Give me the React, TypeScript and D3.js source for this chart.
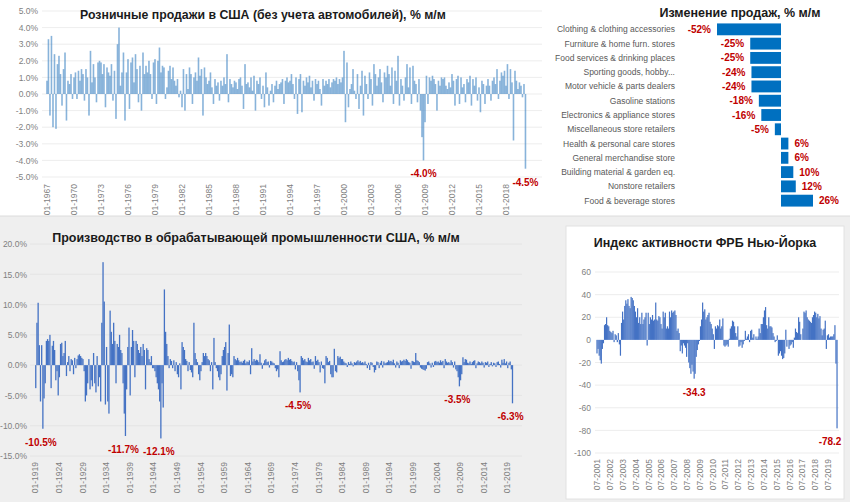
import React, { useEffect, useRef } from 'react';
import * as d3 from 'd3';

// Розничные продажи без автомобилей, % м/м (значения через месяц: янв, мар, май, июл, сен, ноя)
const retailSales: number[] = [
  0.8, 3.3, -1.3, 3.5, -2.0, 2.4, // 1967
  -2.1, 1.8, 2.3, 1.2, -0.7, 1.5,
  2.5, -1.6, 0.8, 0.6, 1.2, -0.3,
  1.0, 1.3, -0.3, 1.4, 0.8, 1.5, // 1970
  1.2, -0.4, 1.5, 1.0, -1.3, 2.6,
  0.7, 1.8, 1.0, -0.5, 1.9, 2.0,
  1.9, 1.2, 1.8, -0.8, 1.6, 1.3,
  1.1, 1.8, -0.4, 1.4, -1.5, 3.0,
  4.0, 0.5, 1.3, 2.5, -1.6, 1.3, // 1975
  2.1, -0.9, 1.9, 2.2, 0.7, 2.4,
  1.5, -0.5, 1.7, -1.0, 2.5, 1.2,
  1.7, 1.3, 2.0, 1.2, -0.3, 1.9,
  2.1, -0.6, 2.0, 2.8, 1.3, 1.7,
  1.6, -0.3, 0.4, 1.4, 1.7, 0.9, // 1980
  1.6, 0.8, 0.5, 0.9, -0.2, 0.2,
  -0.8, 1.5, -1.0, 1.2, 0.3, 1.6,
  1.2, -0.6, 1.0, 1.3, 0.8, 2.2,
  1.1, 1.5, -1.3, 1.6, 1.0, 0.6,
  0.8, 1.3, 0.4, -0.6, 0.9, 0.5, // 1985
  0.7, -0.4, 0.8, 0.5, 1.0, 0.6,
  2.4, -0.5, 0.9, 0.6, 0.4, 0.8,
  0.7, 0.3, 0.9, 1.0, 0.5, -0.9,
  1.8, 0.6, 0.7, 0.4, 1.0, 0.2,
  1.1, -1.0, 0.8, 0.6, 1.0, -0.3, // 1990
  0.5, -0.8, 1.3, 0.4, -0.7, 0.2,
  0.6, -0.5, 0.5, 0.8, 0.3, 0.6,
  0.7, 0.9, -0.6, 0.8, 1.0, 0.7,
  0.8, 1.2, 0.6, -0.3, 1.0, -1.2,
  0.9, 1.2, -1.1, 0.8, 0.5, 1.0, // 1995
  0.7, 1.1, 0.4, 0.8, -0.4, 0.9,
  0.6, 0.8, 0.3, -0.7, 0.9, 0.5,
  0.8, 0.6, 0.9, 0.4, 0.7, 0.9,
  0.8, 1.0, 0.6, 0.9, 0.7, 1.0,
  2.6, -1.7, 1.9, -0.8, 0.3, 0.6, // 2000
  1.5, 0.2, -0.3, 1.2, -0.9, 0.5,
  1.4, -1.3, 1.1, 0.6, -0.3, 1.3,
  0.9, -0.7, 1.8, 1.2, 0.5, 1.0,
  1.5, 0.7, -0.5, 1.3, 1.0, 1.7,
  1.2, 0.5, 1.6, -0.6, 1.4, 0.8, // 2005
  2.3, -0.7, 0.9, 0.5, -0.4, 1.0,
  1.8, 0.4, 1.6, -0.6, 1.7, 0.8,
  0.6, -0.5, 0.9, -1.0, -2.6, -4.0,
  -1.7, 1.1, -0.6, 1.0, 0.8, 1.1,
  0.9, 0.6, -1.0, 0.8, 0.5, 1.0, // 2010
  0.9, 1.0, 0.5, 0.3, 0.7, 0.4,
  1.2, 0.8, -0.7, 0.9, 1.1, -0.6,
  1.0, 0.4, 0.6, -0.5, 0.9, 0.7,
  1.1, -0.7, 0.9, 0.5, 1.0, -0.4,
  0.4, -1.1, 0.8, 0.6, -0.6, 0.5, // 2015
  0.9, 0.5, -0.4, 0.8, 1.0, 0.6,
  1.5, -0.3, 0.8, 1.3, 1.1, 1.4,
  0.5, 1.8, -0.3, 1.5, 0.7, -2.8,
  1.4, 0.8, 0.3, 0.7, 0.5, -0.2,
  0.6, -4.5, // 2020
];
const retailStart = '01-1967';
const retailStepMonths = 2;
const retailTicks = ['01-1967', '01-1970', '01-1973', '01-1976', '01-1979', '01-1982', '01-1985', '01-1988',
  '01-1991', '01-1994', '01-1997', '01-2000', '01-2003', '01-2006', '01-2009', '01-2012', '01-2015', '01-2018'];
const retailYTicks = [5, 4, 3, 2, 1, 0, -1, -2, -3, -4, -5];
const retailNotes = [{ date: '11-2008', text: '-4.0%' }, { date: '03-2020', text: '-4.5%' }];

// Изменение продаж по категориям, % м/м
const categories = ['Clothing & clothing accessories', 'Furniture & home furn. stores', 'Food services & drinking places',
  'Sporting goods, hobby...', 'Motor vehicle & parts dealers', 'Gasoline stations', 'Electronics & appliance stores',
  'Miscellaneous store retailers', 'Health & personal care stores', 'General merchandise store',
  'Building material & garden eq.', 'Nonstore retailers', 'Food & beverage stores'];
const categoryChange = [-52, -25, -25, -24, -24, -18, -16, -5, 6, 6, 10, 12, 26];

// Производство в обрабатывающей промышленности, % м/м (по кварталам: мар, июн, сен, дек)
const manufacturing: number[] = [
  -3.8, 7.0, 10.3, 3.3, // 1919
  -6.0, 3.3, -10.5, -5.5,
  -3.0, 4.0, 4.3, 4.0,
  5.0, -3.8, 3.2, 4.0,
  2.5, -2.5, -1.0, -5.0,
  -2.0, 3.5, 3.7, 1.5, // 1924
  2.0, 4.0, -1.8, 0.5,
  1.5, -1.0, 1.0, 0.8,
  -1.5, 1.2, -0.5, 1.0,
  1.6, 1.8, 1.5, 1.2,
  1.0, -1.0, -6.0, -5.0, // 1929
  -3.0, 1.0, -4.0, -2.5,
  -3.5, 2.0, -3.0, -4.5,
  1.5, -3.5, -2.0, -6.0,
  7.0, 17.0, 10.5, -6.5,
  3.0, -6.0, -8.0, 9.0, // 1934
  5.5, 3.5, 7.0, 4.0,
  -3.0, 3.5, 3.0, 5.0,
  2.5, 2.0, -3.0, -8.0,
  -11.7, -4.0, 3.0, 6.2,
  -5.0, 3.0, 5.8, 4.0, // 1939
  -2.0, 4.0, 3.5, 2.5,
  2.0, 3.0, 1.5, 3.5,
  2.5, -4.0, 2.8, 2.5,
  1.0, 0.5, 1.5, -0.5,
  -0.5, -1.0, -2.0, -3.0, // 1944
  -4.0, -6.0, -12.1, -3.0,
  -7.0, 12.5, 5.5, 3.5,
  1.5, -0.5, 1.0, 0.7,
  -0.5, 0.8, -1.0, 0.5,
  -1.5, -2.0, 0.3, -4.0, // 1949
  3.8, 3.0, 2.5, 1.0,
  0.7, -1.0, 0.5, -0.8,
  -1.2, -2.0, 7.0, 2.0,
  1.0, 0.5, -1.5, -2.5,
  -1.0, 0.5, 2.0, 1.5, // 1954
  2.0, 1.5, 1.0, 0.8,
  -1.0, 0.5, -4.0, 4.5,
  0.5, -0.5, -1.0, -2.0,
  -2.5, -1.5, 1.5, 2.5,
  3.0, 3.8, -4.2, 2.0, // 1959
  6.7, -1.8, -1.5, -2.0,
  1.5, 1.0, 0.8, 1.2,
  0.8, 0.5, 0.6, 0.4,
  0.7, 0.9, 0.3, 0.6,
  0.5, 0.8, -1.5, 2.8, // 1964
  0.6, 1.0, 0.7, 0.9,
  0.8, 0.5, 1.8, 0.4,
  -0.6, 0.3, 0.8, 1.0,
  0.5, 0.6, -0.4, 0.7,
  0.6, 0.4, 0.3, -0.5, // 1969
  -1.0, -0.7, -2.0, 2.3,
  0.8, 0.5, 0.6, 0.9,
  1.0, 0.8, 1.2, 0.9,
  1.0, 0.7, 0.5, 0.6,
  -0.7, 0.5, -1.0, -2.5, // 1974
  -4.5, 1.5, 1.2, 0.8,
  1.0, 0.6, 0.5, 1.2,
  0.8, 1.0, 0.5, 0.6,
  -0.6, 1.5, 0.7, 0.9,
  0.5, -1.2, 0.6, -0.5, // 1979
  -0.6, -3.0, 1.5, 1.2,
  0.5, 0.7, -1.5, -2.0,
  -2.0, 2.7, -1.0, -1.2,
  1.5, 1.2, 1.4, 1.0,
  1.0, 0.6, 0.4, 0.3, // 1984
  -0.3, 0.5, 0.2, 0.6,
  0.3, -0.2, 0.5, 0.4,
  0.6, 0.8, 0.5, 0.7,
  0.4, 0.5, 0.3, 0.6,
  0.2, -0.5, 0.4, -0.8, // 1989
  0.5, 0.4, -0.3, -1.2,
  -0.8, 0.6, 0.5, -0.5,
  0.4, 0.7, -0.4, 0.6,
  0.3, 0.4, 0.5, 0.8,
  0.6, 0.7, 0.5, 0.9, // 1994
  0.3, -0.4, 0.6, 0.4,
  -0.5, 0.8, 0.6, 0.7,
  0.9, 0.7, 1.0, 0.8,
  0.5, 0.4, -0.6, 0.7,
  0.6, 0.5, 2.0, 0.8, // 1999
  0.7, 0.5, -0.4, -0.6,
  -0.7, -0.8, -0.9, -0.6,
  0.5, 0.6, 0.3, -0.4,
  0.4, -0.3, 0.6, 0.7,
  0.5, 0.6, 0.4, 0.8, // 2004
  0.5, 0.7, -0.5, 1.0,
  0.6, 0.4, 0.5, 0.3,
  0.8, 0.5, -0.4, 0.6,
  -0.7, -1.0, -2.0, -3.5,
  -2.5, -1.5, 1.3, 0.5, // 2009
  1.0, 0.9, 0.4, 0.3,
  0.6, 0.2, 0.5, 0.7,
  0.8, -0.5, 0.3, 0.6,
  0.5, 0.3, 0.6, 0.4,
  -0.4, 0.5, 0.4, 0.6, // 2014
  -0.3, 0.2, 0.5, -0.2,
  0.4, 0.3, -0.3, 0.5,
  0.6, 0.2, -0.4, 0.9,
  0.4, 1.0, 0.3, 0.6,
  -0.5, 0.4, 0.6, -0.7, // 2019
  -6.3,
];
const mfgStart = '03-1919';
const mfgStepMonths = 3;
const mfgTicks = ['01-1919', '01-1924', '01-1929', '01-1934', '01-1939', '01-1944', '01-1949', '01-1954', '01-1959',
  '01-1964', '01-1969', '01-1974', '01-1979', '01-1984', '01-1989', '01-1994', '01-1999', '01-2004', '01-2009',
  '01-2014', '01-2019'];
const mfgYTicks = [20, 15, 10, 5, 0, -5, -10, -15];
const mfgNotes = [
  { date: '09-1920', text: '-10.5%' }, { date: '03-1938', text: '-11.7%' }, { date: '09-1945', text: '-12.1%' },
  { date: '03-1975', text: '-4.5%' }, { date: '12-2008', text: '-3.5%' }, { date: '03-2020', text: '-6.3%' },
];

// Индекс активности ФРБ Нью-Йорка, помесячно с 07-2001
const empireIndex: number[] = [
  -12, -8, -14, -18, -21, -8, // 2001 (июл-дек)
  -3, 13, 14, 20, 13, 12, 8, 7, 6, 8, -2, 5,
  4, -2, 6, -4, -14, 15, 25, 18, 30, 35, 32, 36,
  30, 28, 38, 37, 35, 30, 25, 20, 28, 15, 20, 14,
  24, 14, 18, 20, 24, -5, 24, 14, 20, 18, 22, 17, // 2005
  18, 33, 18, 17, 21, 20, 14, 10, 25, 20, 24, 10,
  12, 10, 25, 20, 26, 24, 25, 26, 22, 8, 10, 6,
  -10, -5, -12, -3, -5, -7, -15, -3, -20, -25, -30, -22,
  -28, -34.3, -30, -15, -9, -4, -1, 12, 18, 33, 25, 27,
  18, 20, 22, 24, 16, 14, 10, 5, -8, 12, 10, 13, // 2010
  12, 18, 10, 12, 19, -5, -6, -5, -4, -6, 1, 10,
  12, 17, 16, 12, 6, 3, 12, -6, -5, -2, -7, -4,
  -1, 8, 1, 3, 5, -2, 8, 9, 2, 5, 0, 3,
  1, 3, 10, 6, 14, 14, 20, 26, 29, 13, 10, 20,
  12, 12, 11, 6, 3, -2, -1, 4, -14, -12, -10, -14, // 2015
  -17, -16, -12, 9, -6, 0, -8, -5, -4, -2, -7, 2,
  10, 7, 6, 20, 16, 5, 0, 10, 25, 24, 26, 20,
  18, 17, 16, 15, 20, 22, 25, 24, 20, 23, 19, 21,
  10, 4, 9, 10, 17, -8, 4, 5, 2, 3, 3, 3,
  5, 13, -21, -78.2, // 2020
];
const empireStart = '07-2001';
const empireTicks = ['07-2001', '07-2002', '07-2003', '07-2004', '07-2005', '07-2006', '07-2007', '07-2008',
  '07-2009', '07-2010', '07-2011', '07-2012', '07-2013', '07-2014', '07-2015', '07-2016', '07-2017', '07-2018',
  '07-2019'];
const empireYTicks = [60, 40, 20, 0, -20, -40, -60, -80, -100];
const empireNotes = [{ date: '02-2009', text: '-34.3' }, { date: '04-2020', text: '-78.2' }];

const FONT = "'Liberation Sans', Arial, sans-serif";
const RED = '#c00000';
const parse = d3.timeParse('%m-%Y');
const fmtMonth = d3.timeFormat('%m-%Y');

const monthSeries = (start: string, step: number, values: number[]) =>
  values.map((v, i) => ({ date: d3.timeMonth.offset(parse(start)!, i * step), value: v }));

const App: React.FC = () => {
  const ref = useRef<SVGSVGElement>(null);

  useEffect(() => {
    if (!ref.current) return;
    const svg = d3.select(ref.current);
    svg.selectAll('*').remove();

    // backgrounds
    svg.append('rect').attr('width', 850).attr('height', 502).attr('fill', '#fff');
    svg.append('rect').attr('y', 216).attr('width', 850).attr('height', 286).attr('fill', '#efefef');
    svg.append('line').attr('x1', 0).attr('x2', 850).attr('y1', 216).attr('y2', 216).attr('stroke', '#dcdcdc');
    svg.append('rect').attr('x', 566).attr('y', 226).attr('width', 278).attr('height', 273)
      .attr('fill', '#fff').attr('stroke', '#e2e2e2');

    const title = (text: string, x: number, y: number, size: number) =>
      svg.append('text').attr('x', x).attr('y', y).attr('text-anchor', 'middle')
        .style('font-family', FONT).style('font-weight', 'bold').style('font-size', `${size}px`)
        .attr('fill', '#1a1a1a').text(text);

    const grid = (y: d3.ScaleLinear<number, number>, ticks: number[], x1: number, x2: number, color: string) =>
      svg.append('g').selectAll('line').data(ticks).enter().append('line')
        .attr('x1', x1).attr('x2', x2).attr('y1', d => y(d)).attr('y2', d => y(d))
        .attr('stroke', color).attr('stroke-width', 0.8);

    const yAxis = (y: d3.ScaleLinear<number, number>, ticks: number[], fmt: (d: number) => string, xRight: number) => {
      const ax = svg.append('g').attr('transform', `translate(${xRight},0)`)
        .call(d3.axisLeft(y).tickValues(ticks).tickSize(0).tickPadding(0).tickFormat(d => fmt(d as number)));
      ax.select('.domain').remove();
      ax.selectAll('text').attr('fill', '#7f7f7f').style('font-family', FONT).style('font-size', '8.5px');
    };

    const xAxis = (x: d3.ScaleTime<number, number>, ticks: string[], top: number) => {
      const ax = svg.append('g').attr('transform', `translate(0,${top})`)
        .call(d3.axisBottom(x).tickValues(ticks.map(t => parse(t)!)).tickSize(0).tickFormat(d => fmtMonth(d as Date)));
      ax.select('.domain').remove();
      ax.selectAll('text').attr('transform', 'rotate(-90)').attr('x', 0).attr('y', 0).attr('dy', '0.35em')
        .attr('text-anchor', 'end').attr('fill', '#7f7f7f').style('font-family', FONT).style('font-size', '8.5px');
    };

    const bars = (data: { date: Date; value: number }[], x: d3.ScaleTime<number, number>,
      y: d3.ScaleLinear<number, number>, w: number, color: string, opacity: number) =>
      svg.append('g').selectAll('rect').data(data).enter().append('rect')
        .attr('x', d => x(d.date) - w / 2).attr('width', w)
        .attr('y', d => y(Math.max(0, d.value))).attr('height', d => Math.abs(y(d.value) - y(0)))
        .attr('fill', color).attr('fill-opacity', opacity);

    const notes = (list: { date: string; text: string }[], data: { date: Date; value: number }[],
      x: d3.ScaleTime<number, number>, y: d3.ScaleLinear<number, number>, dx = 0) =>
      svg.append('g').selectAll('text').data(list).enter().append('text')
        .attr('x', d => x(parse(d.date)!) + dx)
        .attr('y', d => {
          const p = data.find(e => fmtMonth(e.date) === d.date);
          return y(p ? p.value : 0) + 17;
        })
        .attr('text-anchor', 'middle').attr('fill', RED)
        .style('font-family', FONT).style('font-weight', 'bold').style('font-size', '10px').text(d => d.text);

    // ---- Розничные продажи ----
    const retail = monthSeries(retailStart, retailStepMonths, retailSales);
    const x1 = d3.scaleTime().domain([parse('01-1967')!, parse('01-2018')!]).range([47, 506]);
    const y1 = d3.scaleLinear().domain([-5, 5]).range([177, 11]);
    grid(y1, retailYTicks, 42, 542, '#e8e8e8');
    bars(retail, x1, y1, 1.6, '#3f84c4', 0.62);
    yAxis(y1, retailYTicks, d => `${d.toFixed(1)}%`, 38);
    xAxis(x1, retailTicks, 184);
    notes(retailNotes, retail, x1, y1);
    title('Розничные продажи в США (без учета автомобилей), % м/м', 263, 18.5, 12.3);

    // ---- Изменение продаж по категориям ----
    const xb = d3.scaleLinear().domain([-52, 26]).range([717, 813]);
    const yb = d3.scaleBand().domain(categories).range([21, 209]).padding(0.17);
    const rows = categories.map((c, i) => ({ name: c, value: categoryChange[i] }));
    svg.append('g').selectAll('rect').data(rows).enter().append('rect')
      .attr('x', d => xb(Math.min(0, d.value))).attr('width', d => Math.abs(xb(d.value) - xb(0)))
      .attr('y', d => yb(d.name)!).attr('height', yb.bandwidth()).attr('fill', '#0070c0');
    svg.append('g').selectAll('text').data(rows).enter().append('text')
      .attr('x', 675).attr('y', d => yb(d.name)! + yb.bandwidth() / 2).attr('dy', '0.35em')
      .attr('text-anchor', 'end').attr('fill', '#595959')
      .style('font-family', FONT).style('font-size', '8.5px').text(d => d.name);
    svg.append('g').selectAll('text').data(rows).enter().append('text')
      .attr('x', d => d.value < 0 ? xb(d.value) - 6 : xb(d.value) + 6)
      .attr('y', d => yb(d.name)! + yb.bandwidth() / 2).attr('dy', '0.35em')
      .attr('text-anchor', d => d.value < 0 ? 'end' : 'start').attr('fill', RED)
      .style('font-family', FONT).style('font-weight', 'bold').style('font-size', '10px')
      .text(d => `${d.value}%`);
    title('Изменение продаж, % м/м', 740, 16.5, 12.5);

    // ---- Обрабатывающая промышленность ----
    const mfg = monthSeries(mfgStart, mfgStepMonths, manufacturing);
    const x2 = d3.scaleTime().domain([parse('01-1919')!, parse('01-2019')!]).range([35, 507]);
    const y2 = d3.scaleLinear().domain([-15, 20]).range([456, 244]);
    grid(y2, mfgYTicks, 30, 522, '#e2e2e2');
    bars(mfg, x2, y2, 1.3, '#4472c4', 1);
    yAxis(y2, mfgYTicks, d => `${d.toFixed(1)}%`, 27);
    xAxis(x2, mfgTicks, 462);
    notes(mfgNotes, mfg, x2, y2, -2);
    title('Производство в обрабатывающей промышленности США, % м/м', 256, 241.5, 12.5);

    // ---- Индекс ФРБ Нью-Йорка ----
    const emp = monthSeries(empireStart, 1, empireIndex);
    const x3 = d3.scaleTime().domain([parse('07-2001')!, parse('07-2019')!]).range([597, 827.4]);
    const y3 = d3.scaleLinear().domain([-100, 60]).range([453, 272]);
    grid(y3, empireYTicks.filter(t => t !== 0), 595, 839, '#e8e8e8');
    bars(emp, x3, y3, 1.2, '#4472c4', 1);
    yAxis(y3, empireYTicks, d => `${d}`, 591);
    xAxis(x3, empireTicks, 459);
    const empNotes = notes(empireNotes, emp, x3, y3);
    empNotes.filter(d => d.date === '04-2020').attr('x', d => x3(parse(d.date)!) - 7);
    title('Индекс активности ФРБ Нью-Йорка', 705, 246.5, 12.5);
  }, []);

  return <svg ref={ref} width={850} height={502} style={{ display: 'block', position: 'absolute', left: 0, top: 0 }} />;
};

export default App;
